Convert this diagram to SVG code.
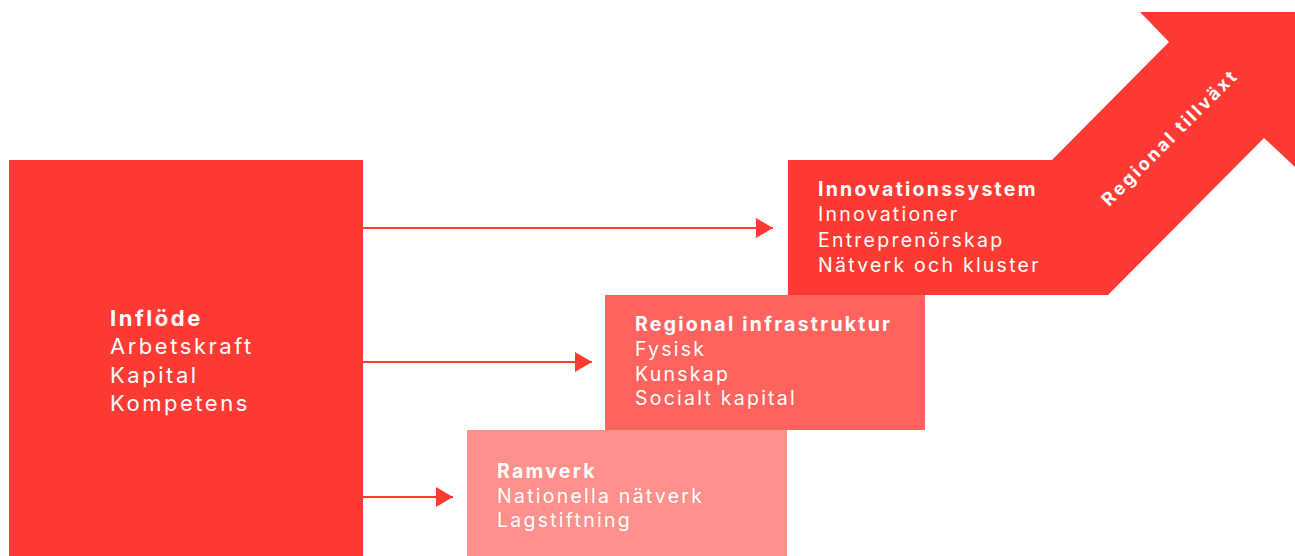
<svg xmlns="http://www.w3.org/2000/svg" width="1295" height="556" viewBox="0 0 1295 556">
<style>
text{font-family:Inter,"Open Sans","Liberation Sans",sans-serif;fill:#fff;letter-spacing:0.115em}
.t{font-weight:700}
.b{font-size:22px}
.s{font-size:19.5px}
.r{font-size:18px;font-weight:700;letter-spacing:2.6px}
.conn line{stroke:#FF3A33;stroke-width:2.2}
</style>
<defs>
<marker id="ah" markerUnits="userSpaceOnUse" markerWidth="17" markerHeight="20" refX="17" refY="10" orient="auto">
<path d="M0,0 L17,10 L0,20 z" fill="#FF3A33"/>
</marker>
</defs>
<rect width="1295" height="556" fill="#fff"/>
<g id="inflode">
<rect x="9" y="160" width="354" height="396" fill="#FF3A33"/>
<text class="b" x="110"><tspan class="t" x="110" y="326">Inflöde</tspan><tspan x="110" y="354">Arbetskraft</tspan><tspan x="110" y="383">Kapital</tspan><tspan x="110" y="411">Kompetens</tspan></text>
</g>
<g id="innovationssystem">
<polygon points="788,160 1052,160 1169,42 1140,12 1295,12 1295,167 1264,138 1108,295 788,295" fill="#FF3A33"/>
<text class="s" x="818"><tspan class="t" x="818" y="196">Innovationssystem</tspan><tspan x="818" y="221">Innovationer</tspan><tspan x="818" y="247">Entreprenörskap</tspan><tspan x="818" y="272">Nätverk och kluster</tspan></text>
<text class="r" text-anchor="middle" transform="translate(1169,138) rotate(-45)" x="1" y="6.5">Regional tillväxt</text>
</g>
<g id="infrastruktur">
<rect x="605" y="295" width="320" height="135" fill="#FF635E"/>
<text class="s" x="635"><tspan class="t" x="635" y="331">Regional infrastruktur</tspan><tspan x="635" y="356">Fysisk</tspan><tspan x="635" y="381">Kunskap</tspan><tspan x="635" y="405">Socialt kapital</tspan></text>
</g>
<g id="ramverk">
<rect x="467" y="430" width="320" height="126" fill="#FF908B"/>
<text class="s" x="497"><tspan class="t" x="497" y="478">Ramverk</tspan><tspan x="497" y="503">Nationella nätverk</tspan><tspan x="497" y="527">Lagstiftning</tspan></text>
</g>
<g class="conn">
<line x1="363" y1="228" x2="773" y2="228" marker-end="url(#ah)"/>
<line x1="363" y1="362" x2="592" y2="362" marker-end="url(#ah)"/>
<line x1="363" y1="497" x2="453" y2="497" marker-end="url(#ah)"/>
</g>
</svg>
